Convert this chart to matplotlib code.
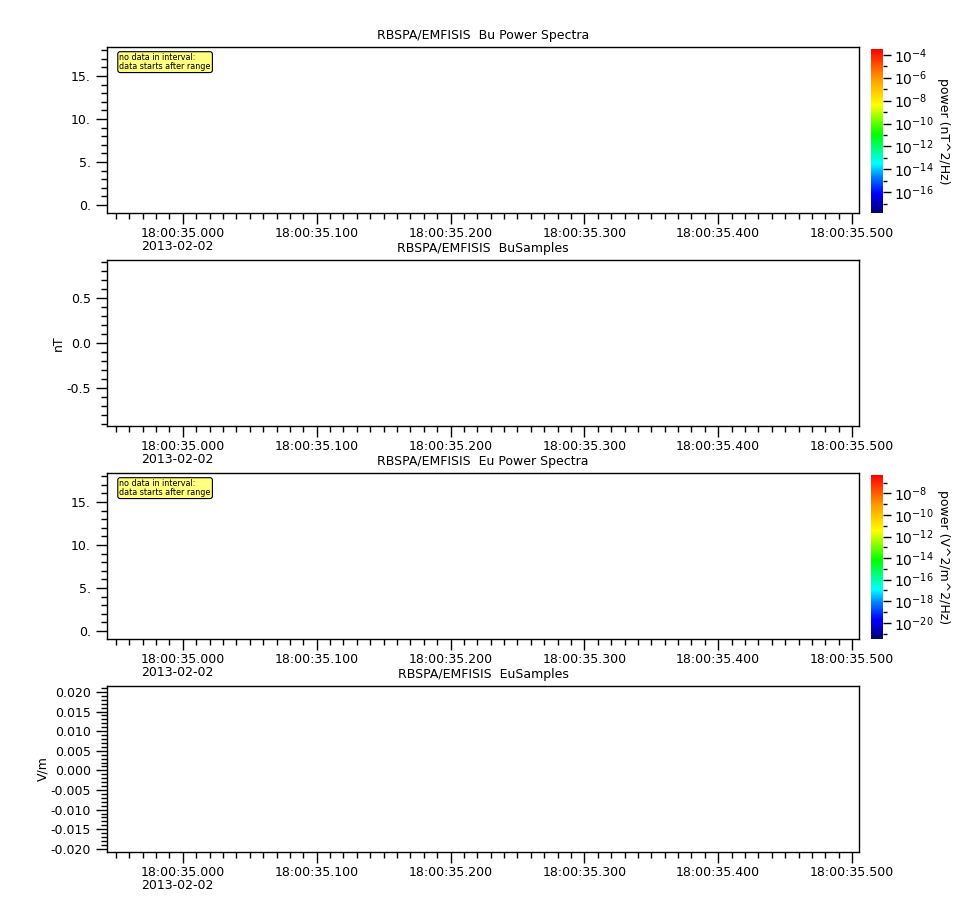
import matplotlib
matplotlib.use("Agg")
import matplotlib.pyplot as plt
from matplotlib.colors import LogNorm, LinearSegmentedColormap
from matplotlib.ticker import (FixedLocator, FixedFormatter, MultipleLocator,
                               LogLocator, FuncFormatter, NullFormatter)
import matplotlib.cm as cm
import numpy as np

plt.rcParams['font.family'] = ['DejaVu Sans']
plt.rcParams['axes.unicode_minus'] = False
plt.rcParams['mathtext.default'] = 'regular'

# ---- data ----
titles = ["RBSPA/EMFISIS  Bu Power Spectra", "RBSPA/EMFISIS  BuSamples",
          "RBSPA/EMFISIS  Eu Power Spectra", "RBSPA/EMFISIS  EuSamples"]
ylabels = ["", "nT", "", "V/m"]
ylims = [(-0.93, 18.37), (-0.92, 0.92), (-0.93, 18.37), (-0.0208, 0.0215)]
ymajor = [[0, 5, 10, 15], [-0.5, 0.0, 0.5], [0, 5, 10, 15],
          [-0.020, -0.015, -0.010, -0.005, 0.0, 0.005, 0.010, 0.015, 0.020]]
yminor_step = [1, 0.1, 1, 0.001]
yfmt = ["{:.0f}.", "{:.1f}", "{:.0f}.", "{:.3f}"]
has_spec = [True, False, True, False]
cbar_ranges = [(10**-17.8, 10**-3.5), None, (10**-21.5, 10**-6.3), None]
cbar_labels = ["power (nT^2/Hz)", None, "power (V^2/m^2/Hz)", None]
cbar_ticks = [[1e-16, 1e-14, 1e-12, 1e-10, 1e-8, 1e-6, 1e-4], None,
              [1e-20, 1e-18, 1e-16, 1e-14, 1e-12, 1e-10, 1e-8], None]
# x axis: seconds after 18:00:00 on 2013-02-02
xlim = (34.9433, 35.5052)
xticks = [35.0, 35.1, 35.2, 35.3, 35.4, 35.5]
xticklabels = ["18:00:35.000\n2013-02-02", "18:00:35.100", "18:00:35.200",
               "18:00:35.300", "18:00:35.400", "18:00:35.500"]
note_text = "no data in interval:\ndata starts after range"

# rainbow colortable
cmap = LinearSegmentedColormap.from_list("rb", [
    (0.00, (0.0, 0.0, 0.45)),
    (0.12, (0.0, 0.0, 1.0)),
    (0.22, (0.0, 0.5, 1.0)),
    (0.30, (0.0, 1.0, 1.0)),
    (0.48, (0.0, 1.0, 0.0)),
    (0.66, (1.0, 1.0, 0.0)),
    (0.82, (1.0, 0.6, 0.0)),
    (1.00, (1.0, 0.0, 0.0)),
])

W, H = 967, 900
fig = plt.figure(figsize=(W / 100, H / 100), dpi=100)

left_px, right_px = 107, 859
tops = [47, 260, 473, 686]
height_px = 166

def fr(x0, y0, w, h):
    return [x0 / W, 1 - (y0 + h) / H, w / W, h / H]

def pow_fmt(v, p):
    e = int(round(np.log10(v)))
    return r"$10^{\mathsf{%d}}$" % e

for i in range(4):
    ax = fig.add_axes(fr(left_px, tops[i], right_px - left_px, height_px))
    ax.set_xlim(*xlim)
    ax.set_ylim(*ylims[i])
    ax.xaxis.set_major_locator(FixedLocator(xticks))
    ax.xaxis.set_major_formatter(FixedFormatter(xticklabels))
    ax.xaxis.set_minor_locator(MultipleLocator(0.01))
    ax.yaxis.set_major_locator(FixedLocator(ymajor[i]))
    f = yfmt[i]
    ax.yaxis.set_major_formatter(FuncFormatter(lambda v, p, f=f: f.format(v) if abs(v) > 1e-12 else f.format(0.0)))
    ax.yaxis.set_minor_locator(MultipleLocator(yminor_step[i]))
    ax.tick_params(which='both', direction='out', top=False, right=False, labelsize=9, colors='black')
    ax.tick_params(which='major', length=8, width=1)
    ax.tick_params(which='minor', length=4, width=1)
    ax.tick_params(axis='x', which='major', pad=2)
    for lab in ax.get_xticklabels():
        lab.set_verticalalignment('top')
        lab.set_multialignment('left')
        lab.set_linespacing(1.05)
    for s in ax.spines.values():
        s.set_linewidth(1)
    ax.set_title(titles[i], fontsize=9, pad=6)
    if ylabels[i]:
        ax.set_ylabel(ylabels[i], fontsize=9, labelpad=1)
    if has_spec[i]:
        ax.text(0.0165, 0.962, note_text, transform=ax.transAxes, fontsize=5.8, va='top', ha='left',
                linespacing=0.95,
                bbox=dict(boxstyle='round,pad=0.2,rounding_size=0.3', facecolor='#ffff80', edgecolor='black', linewidth=0.8))
        lo, hi = cbar_ranges[i]
        cax = fig.add_axes(fr(871, tops[i] + 2, 12, height_px - 2))
        sm = cm.ScalarMappable(norm=LogNorm(vmin=lo, vmax=hi), cmap=cmap)
        cb = fig.colorbar(sm, cax=cax)
        cb.outline.set_visible(False)
        cb.ax.yaxis.set_major_locator(FixedLocator(cbar_ticks[i]))
        cb.ax.yaxis.set_major_formatter(FuncFormatter(pow_fmt))
        cb.ax.yaxis.set_minor_locator(LogLocator(base=10, subs=[1.0], numticks=40))
        cb.ax.yaxis.set_minor_formatter(NullFormatter())
        cb.ax.tick_params(which='major', length=6, width=1, labelsize=10, direction='out', pad=2)
        cb.ax.tick_params(which='minor', length=3, width=1, direction='out')
        cb.set_label(cbar_labels[i], rotation=270, fontsize=9, labelpad=2, va='bottom')

fig.savefig("out.png", dpi=100)
